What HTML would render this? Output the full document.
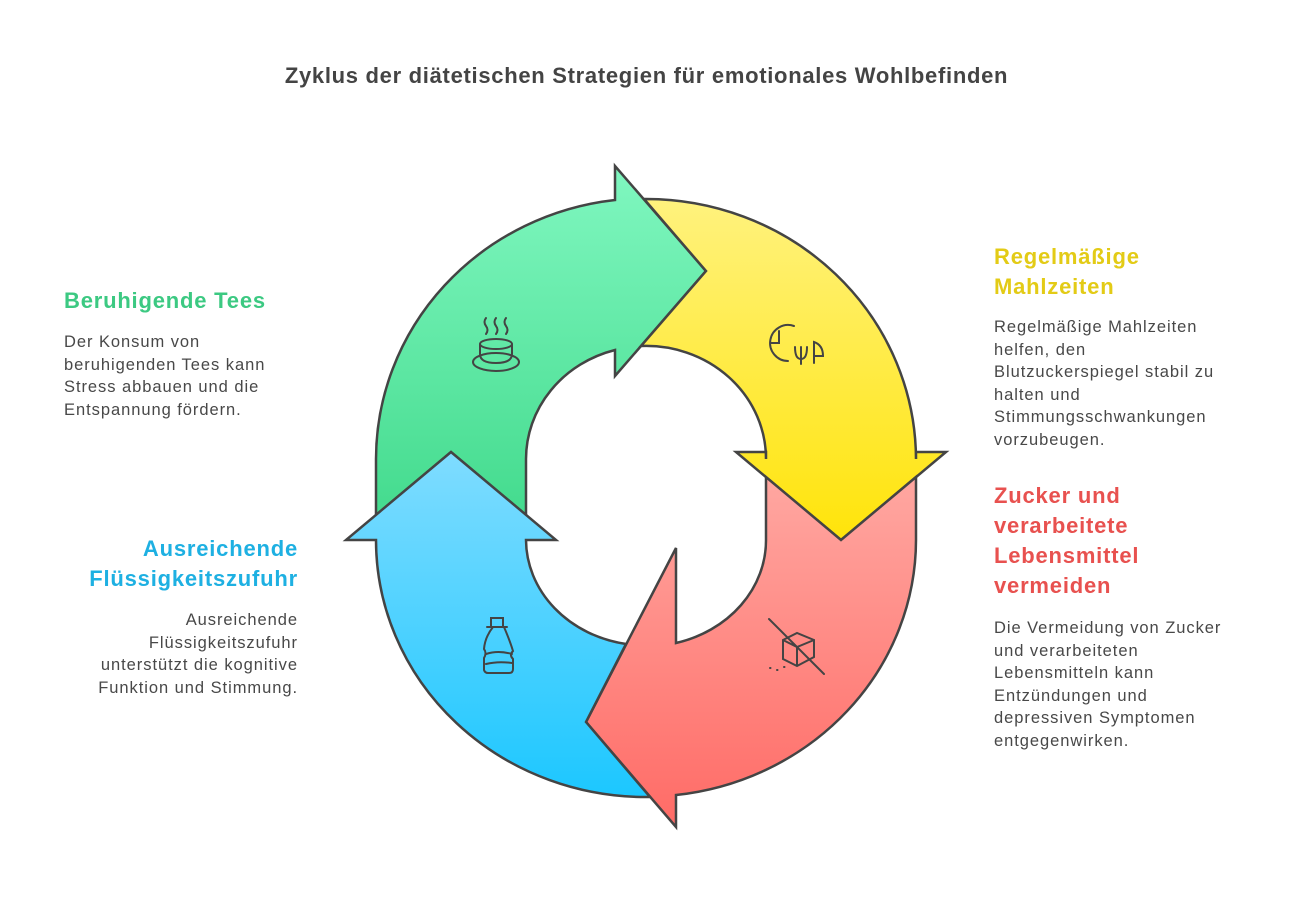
<!DOCTYPE html>
<html><head><meta charset="utf-8"><style>
body{margin:0;width:1293px;height:903px;background:#fff;position:relative;overflow:hidden;font-family:"Liberation Sans",Arial,sans-serif;color:#444}
.t{position:absolute;left:0;width:1293px;top:63px;text-align:center;font-weight:bold;font-size:22px;letter-spacing:0.7px}
.h{position:absolute;font-weight:bold;font-size:22px;line-height:30px;letter-spacing:0.8px;white-space:nowrap}
.b{position:absolute;font-size:16.5px;line-height:22.5px;color:#484848;letter-spacing:0.95px;white-space:nowrap}
</style></head><body>
<div class="t">Zyklus der diätetischen Strategien für emotionales Wohlbefinden</div>
<div class="h" style="left:64px;top:286px;color:#3cc982">Beruhigende Tees</div>
<div class="b" style="left:64px;top:331px">Der Konsum von<br>beruhigenden Tees kann<br>Stress abbauen und die<br>Entspannung fördern.</div>
<div class="h" style="right:995px;top:534px;text-align:right;color:#1eb0e2">Ausreichende<br>Flüssigkeitszufuhr</div>
<div class="b" style="right:995px;top:609px;text-align:right">Ausreichende<br>Flüssigkeitszufuhr<br>unterstützt die kognitive<br>Funktion und Stimmung.</div>
<div class="h" style="left:994px;top:242px;color:#e3cb16">Regelmäßige<br>Mahlzeiten</div>
<div class="b" style="left:994px;top:316px">Regelmäßige Mahlzeiten<br>helfen, den<br>Blutzuckerspiegel stabil zu<br>halten und<br>Stimmungsschwankungen<br>vorzubeugen.</div>
<div class="h" style="left:994px;top:481px;color:#e8514f">Zucker und<br>verarbeitete<br>Lebensmittel<br>vermeiden</div>
<div class="b" style="left:994px;top:617px">Die Vermeidung von Zucker<br>und verarbeiteten<br>Lebensmitteln kann<br>Entzündungen und<br>depressiven Symptomen<br>entgegenwirken.</div>
<svg width="1293" height="903" style="position:absolute;left:0;top:0">
<defs>
<linearGradient id="g" x1="0" y1="0" x2="0" y2="1"><stop offset="0" stop-color="#80f7c0"/><stop offset="1" stop-color="#44db8e"/></linearGradient>
<linearGradient id="y" x1="0" y1="0" x2="0" y2="1"><stop offset="0" stop-color="#fff27e"/><stop offset="1" stop-color="#ffe40a"/></linearGradient>
<linearGradient id="r" x1="0" y1="0" x2="0" y2="1"><stop offset="0" stop-color="#ffa7a1"/><stop offset="1" stop-color="#ff6b66"/></linearGradient>
<linearGradient id="bl" x1="0" y1="0" x2="0" y2="1"><stop offset="0" stop-color="#7fdcff"/><stop offset="1" stop-color="#1cc7ff"/></linearGradient>
</defs>
<g stroke="#444" stroke-width="2.5" stroke-linejoin="miter">
<path fill="url(#g)" d="M376,515 L451,452 L526,515 L526,459 A120 113 0 0 1 615,350 L615,376 L706,271 L615,166 L615,200 A270 261 0 0 0 376,459 Z"/>
<path fill="url(#y)" d="M644,199 L706,271 L641,346 A120 113 0 0 1 766,459 L766,452 L736,452 L841,540 L946,452 L916,452 L916,459 A270 261 0 0 0 644,199 Z"/>
<path fill="url(#r)" d="M916,477 L841,540 L766,477 L766,540 A120 106 0 0 1 676,643 L676,548 L586,722 L676,827 L676,795 A270 257 0 0 0 916,540 Z"/>
<path fill="url(#bl)" d="M626,644 L586,722 L650,797 A270 257 0 0 1 376,540 L346,540 L451,452 L556,540 L526,540 A120 106 0 0 0 626,644 Z"/>
</g>
<g fill="none" stroke="#444" stroke-width="2" stroke-linecap="round">
<path d="M486,318 q-3,4 0,8 q3,4 0,8 M496,318 q-3,4 0,8 q3,4 0,8 M506,318 q-3,4 0,8 q3,4 0,8"/>
<ellipse cx="496" cy="344" rx="16" ry="5"/>
<path d="M480,344 v10 q0,9 16,9 q16,0 16,-9 v-10"/>
<ellipse cx="496" cy="362" rx="23" ry="9"/>
<path d="M794,326 a18,18 0 1 0 -6,35"/>
<path d="M779,331 v12 h-8 M801,347 v17 M795,347 q0,12 6,12 q6,0 6,-12 M814,363 v-21 q9,3 9,14 h-9"/>
<path d="M491,618 h12 v9 h-12 z M487,627 h20 M493,627 q-8,10 -9,22 q3,4 0,9 v12 q1,3 4,3 h21 q4,0 4,-4 v-10 q-4,-4 0,-8 q-3,-10 -9,-24 M486,654 q12,-4 26,0 M486,664 q12,-3 26,-1"/>
<path d="M769,619 l55,55 M783,640 l14,-7 l17,7 v17 l-17,9 l-14,-7 z M783,640 l14,7 l17,-7 M797,647 v19"/>
<path d="M770,668 h0.5 M777,670 h0.5 M784,667 h0.5"/>
</g>
</svg>
</body></html>
